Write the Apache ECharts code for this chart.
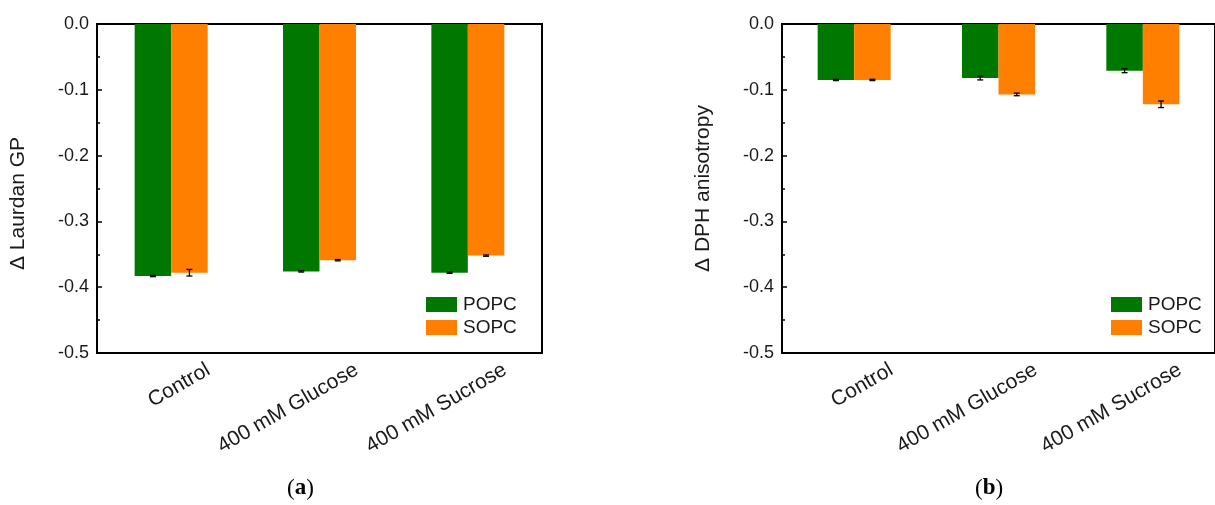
<!DOCTYPE html>
<html>
<head>
<meta charset="utf-8">
<script src="https://cdn.jsdelivr.net/npm/echarts@6/dist/echarts.min.js"></script>
<style>
html, body { margin: 0; padding: 0; background: #fff; }
#main { width: 1215px; height: 505px; }
</style>
</head>
<body>
<div id="main"></div>
<script>
var categories = ['Control', '400 mM Glucose', '400 mM Sucrose'];

// (a) Laurdan GP
var laurdanPOPC = [-0.383, -0.376, -0.378];
var laurdanPOPCErr = [0.001, 0.001, 0.001];
var laurdanSOPC = [-0.378, -0.359, -0.352];
var laurdanSOPCErr = [0.005, 0.001, 0.001];

// (b) DPH anisotropy
var dphPOPC = [-0.085, -0.082, -0.071];
var dphPOPCErr = [0.001, 0.003, 0.003];
var dphSOPC = [-0.085, -0.107, -0.122];
var dphSOPCErr = [0.001, 0.002, 0.005];

var green = '#007800';
var orange = '#ff8000';
var font = '"Liberation Sans", Arial, sans-serif';
var barW = 36.5;

var myChart = echarts.init(document.getElementById('main'));

function errData(vals, errs) {
    return vals.map(function (v, i) { return [i, v, errs[i]]; });
}

function errSeries(idx, vals, errs, shift) {
    return {
        type: 'custom',
        xAxisIndex: idx,
        yAxisIndex: idx,
        silent: true,
        z: 5,
        data: errData(vals, errs),
        renderItem: function (params, api) {
            var i = api.value(0), v = api.value(1), e = api.value(2);
            var p1 = api.coord([i, v + e]);
            var p2 = api.coord([i, v - e]);
            var x = p1[0] + shift;
            var cap = 3;
            var st = { stroke: '#000', lineWidth: 1.3 };
            return {
                type: 'group',
                children: [
                    { type: 'line', shape: { x1: x, y1: p1[1], x2: x, y2: p2[1] }, style: st },
                    { type: 'line', shape: { x1: x - cap, y1: p1[1], x2: x + cap, y2: p1[1] }, style: st },
                    { type: 'line', shape: { x1: x - cap, y1: p2[1], x2: x + cap, y2: p2[1] }, style: st }
                ]
            };
        }
    };
}

function xAxisCfg(idx) {
    return {
        type: 'category',
        gridIndex: idx,
        data: categories,
        axisLine: { lineStyle: { color: '#000', width: 2 } },
        axisTick: { show: false },
        axisLabel: {
            interval: 0,
            rotate: 30,
            margin: 37,
            padding: [0, -43, 0, 0],
            fontSize: 21,
            fontFamily: font,
            color: '#1a1a1a'
        }
    };
}

function yAxisCfg(idx, name, pad) {
    return {
        type: 'value',
        gridIndex: idx,
        min: -0.5,
        max: 0,
        interval: 0.1,
        name: name,
        nameLocation: 'middle',
        nameGap: 68,
        nameTextStyle: { fontSize: 21, fontFamily: font, color: '#1a1a1a', padding: pad },
        axisLine: { show: true, lineStyle: { color: '#000', width: 2 } },
        axisTick: { show: true, inside: true, length: 5, lineStyle: { color: '#000', width: 1.5 } },
        minorTick: { show: true, splitNumber: 2, length: 3, lineStyle: { color: '#000', width: 1.5 } },
        splitLine: { show: false },
        axisLabel: {
            margin: 8,
            fontSize: 18,
            fontFamily: font,
            color: '#1a1a1a',
            formatter: function (v) { return v.toFixed(1); }
        }
    };
}

function barSeries(idx, name, vals, color) {
    return {
        name: name,
        type: 'bar',
        xAxisIndex: idx,
        yAxisIndex: idx,
        barWidth: barW,
        barGap: '0%',
        data: vals,
        itemStyle: { color: color }
    };
}

function legendCfg(left) {
    return {
        orient: 'vertical',
        left: left,
        top: 295,
        padding: 0,
        icon: 'rect',
        itemWidth: 31,
        itemHeight: 15,
        itemGap: 4,
        textStyle: { fontSize: 19, fontFamily: font, color: '#1a1a1a', padding: [0, 0, 0, 1] },
        data: ['POPC', 'SOPC']
    };
}

function caption(letter, left) {
    return {
        type: 'text', left: left, top: 477,
        style: {
            rich: {
                p: { fontSize: 23, fontFamily: '"Liberation Serif", serif' },
                b: { fontSize: 23, fontWeight: 'bold', fontFamily: '"Liberation Serif", serif' }
            },
            text: '{p|(}{b|' + letter + '}{p|)}', fill: '#000'
        }
    };
}

var option = {
    animation: false,
    backgroundColor: '#fff',
    grid: [
        { left: 97, top: 24, width: 445, height: 329, show: true, borderColor: '#000', borderWidth: 2 },
        { left: 782, top: 24, width: 445, height: 329, show: true, borderColor: '#000', borderWidth: 2 }
    ],
    legend: [legendCfg(426), legendCfg(1111)],
    xAxis: [xAxisCfg(0), xAxisCfg(1)],
    yAxis: [
        yAxisCfg(0, '\u0394 Laurdan GP', [0, 30, 0, 0]),
        yAxisCfg(1, '\u0394 DPH anisotropy', [0, 0, 0, 0])
    ],
    series: [
        barSeries(0, 'POPC', laurdanPOPC, green),
        barSeries(0, 'SOPC', laurdanSOPC, orange),
        barSeries(1, 'POPC', dphPOPC, green),
        barSeries(1, 'SOPC', dphSOPC, orange),
        errSeries(0, laurdanPOPC, laurdanPOPCErr, -barW / 2),
        errSeries(0, laurdanSOPC, laurdanSOPCErr, barW / 2),
        errSeries(1, dphPOPC, dphPOPCErr, -barW / 2),
        errSeries(1, dphSOPC, dphSOPCErr, barW / 2)
    ],
    graphic: [caption('a', 287), caption('b', 975)]
};
myChart.setOption(option);
</script>
</body>
</html>
